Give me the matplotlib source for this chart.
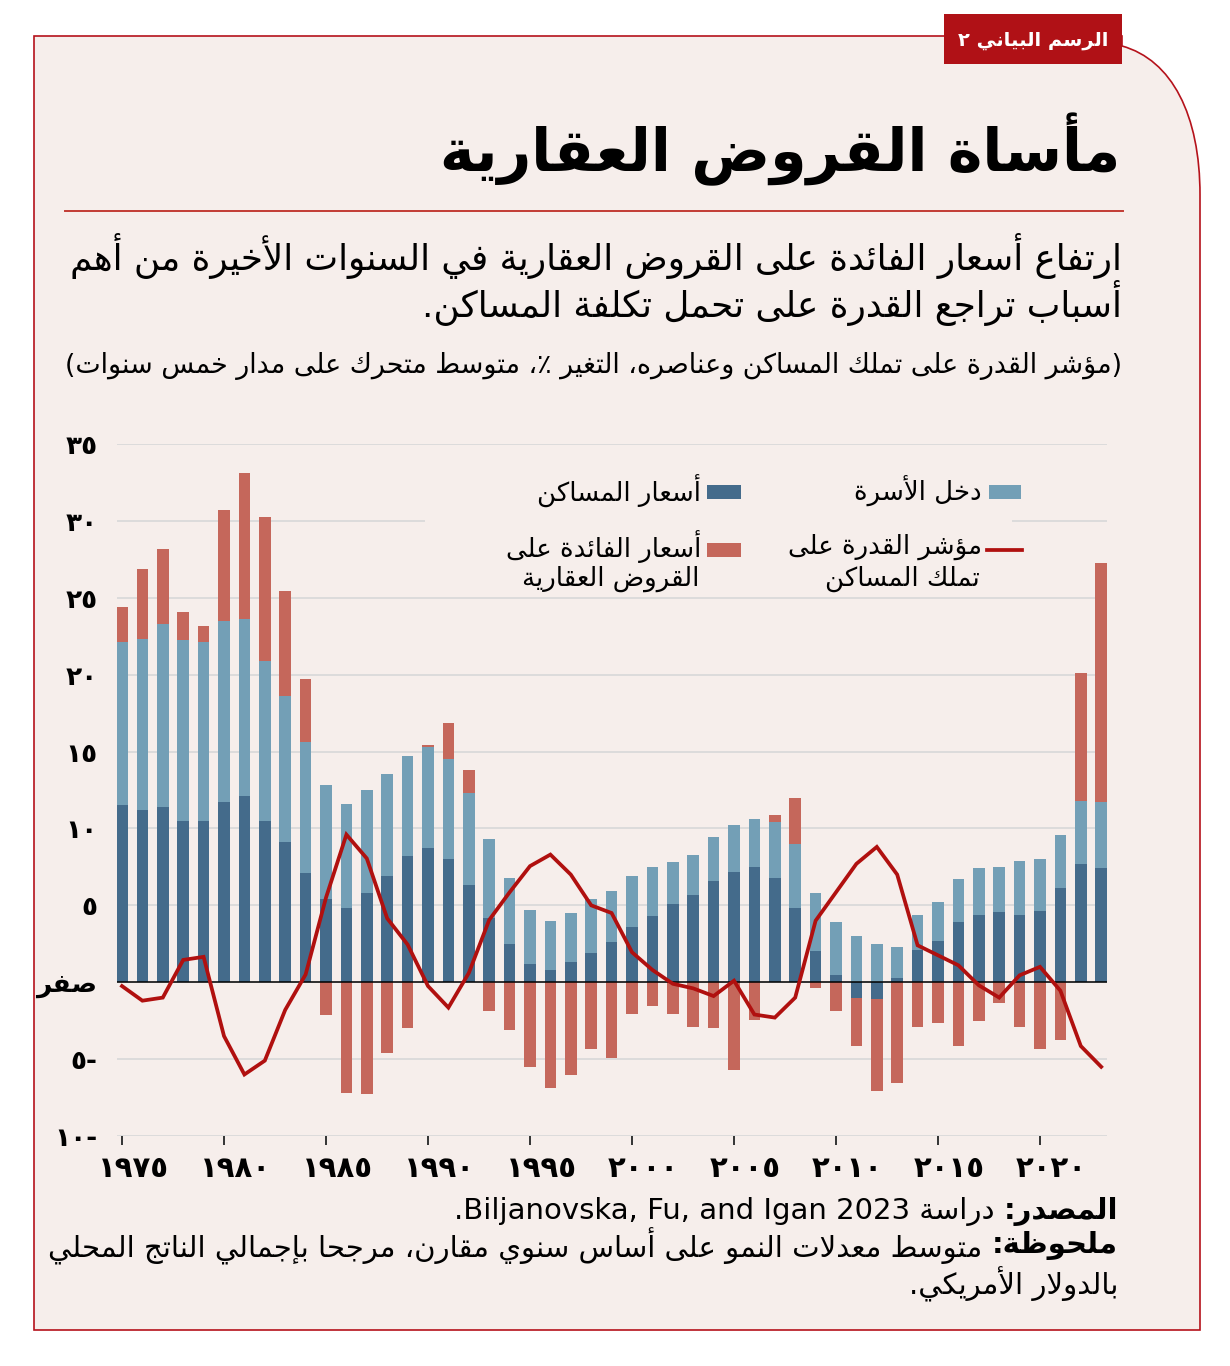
import numpy as np
import matplotlib
matplotlib.use('Agg')
import matplotlib.pyplot as plt
from matplotlib.patches import Rectangle, PathPatch
from matplotlib.path import Path
from matplotlib.lines import Line2D
from matplotlib.transforms import ScaledTranslation

# ---------------- data ----------------
years = list(range(1975, 2024))
house_prices = [11.5, 11.2, 11.4, 10.5, 10.5, 11.7, 12.1, 10.5, 9.1, 7.1,
                5.4, 4.8, 5.8, 6.9, 8.2, 8.7, 8.0, 6.3, 4.2, 2.5,
                1.2, 0.8, 1.3, 1.9, 2.6, 3.6, 4.3, 5.1, 5.7, 6.6,
                7.2, 7.5, 6.8, 4.8, 2.0, 0.5, -1.0, -1.1, 0.3, 2.1,
                2.7, 3.9, 4.4, 4.55, 4.4, 4.6, 6.1, 7.7, 7.4]
household_income = [10.6, 11.1, 11.9, 11.75, 11.6, 11.8, 11.5, 10.4, 9.5, 8.5,
                    7.4, 6.8, 6.7, 6.65, 6.5, 6.6, 6.5, 6.0, 5.1, 4.3,
                    3.5, 3.2, 3.2, 3.5, 3.3, 3.3, 3.2, 2.75, 2.6, 2.85,
                    3.0, 3.1, 3.6, 4.2, 3.8, 3.4, 3.0, 2.5, 2.0, 2.3,
                    2.5, 2.8, 3.0, 2.95, 3.5, 3.4, 3.5, 4.1, 4.3]
mortgage_rates = [2.3, 4.55, 4.85, 1.8, 1.05, 7.2, 9.5, 9.35, 6.85, 4.15,
                  -2.15, -7.2, -7.3, -4.6, -3.0, 0.15, 2.35, 1.5, -1.85, -3.1,
                  -5.5, -6.9, -6.05, -4.35, -4.9, -2.05, -1.55, -2.05, -2.9, -3.0,
                  -5.7, -2.45, 0.45, 3.0, -0.4, -1.85, -3.15, -5.95, -6.55, -2.9,
                  -2.65, -4.15, -2.55, -1.35, -2.9, -4.35, -3.75, 8.3, 15.55]
affordability = [-0.25, -1.2, -1.0, 1.45, 1.65, -3.5, -6.0, -5.1, -1.8, 0.5,
                 5.5, 9.6, 8.05, 4.15, 2.45, -0.25, -1.65, 0.6, 4.05, 5.85,
                 7.55, 8.3, 7.0, 5.0, 4.5, 1.95, 0.8, -0.1, -0.4, -0.9,
                 0.1, -2.1, -2.3, -1.0, 4.0, 5.85, 7.7, 8.8, 7.0, 2.4,
                 1.75, 1.1, -0.2, -1.0, 0.45, 1.0, -0.55, -4.15, -5.5]
x_ticks = [1975, 1980, 1985, 1990, 1995, 2000, 2005, 2010, 2015, 2020]
y_ticks = [-10, -5, 0, 5, 10, 15, 20, 25, 30, 35]

title_txt = "مأساة القروض العقارية"
badge_txt = "الرسم البياني ٢"
sub1_txt = "ارتفاع أسعار الفائدة على القروض العقارية في السنوات الأخيرة من أهم"
sub2_txt = "أسباب تراجع القدرة على تحمل تكلفة المساكن."
unit_txt = "(مؤشر القدرة على تملك المساكن وعناصره، التغير ٪، متوسط متحرك على مدار خمس سنوات)"
zero_txt = "صفر"
leg_income = "دخل الأسرة"
leg_prices = "أسعار المساكن"
leg_index = ["مؤشر القدرة على", "تملك المساكن"]
leg_rates = ["أسعار الفائدة على", "القروض العقارية"]
src_bold = "المصدر:"
src_rest = " دراسة Biljanovska, Fu, and Igan 2023."
note_bold = "ملحوظة:"
note_rest1 = " متوسط معدلات النمو على أساس سنوي مقارن، مرجحا بإجمالي الناتج المحلي"
note_rest2 = "بالدولار الأمريكي."

# ---------------- Arabic shaping + simple bidi ----------------
_codes = list(range(0x621, 0x63B)) + list(range(0x641, 0x64B))
_counts = [1, 2, 2, 2, 2, 4, 2, 4, 2, 4, 4, 4, 4, 4, 2, 2, 2, 2, 4, 4, 4, 4, 4, 4, 4, 4,
           4, 4, 4, 4, 4, 4, 4, 2, 2, 4]
FORMS = {}
_p = 0xFE80
for c, k in zip(_codes, _counts):
    FORMS[chr(c)] = tuple(chr(_p + i) for i in range(k))
    _p += k
LAMALEF = {'\u0622': ('\uFEF5', '\uFEF6'), '\u0623': ('\uFEF7', '\uFEF8'),
           '\u0625': ('\uFEF9', '\uFEFA'), '\u0627': ('\uFEFB', '\uFEFC')}
TATWEEL = '\u0640'


def _forms(u):
    return u if isinstance(u, tuple) else FORMS.get(u)


def _jl(u):
    if u == TATWEEL:
        return True
    f = _forms(u)
    return f is not None and len(f) == 4


def _jr(u):
    if u == TATWEEL:
        return True
    f = _forms(u)
    return f is not None and len(f) >= 2


def shape(s):
    units = []
    i = 0
    while i < len(s):
        c = s[i]
        if c == '\u0644' and i + 1 < len(s) and s[i + 1] in LAMALEF:
            units.append(LAMALEF[s[i + 1]])
            i += 2
        else:
            units.append(c)
            i += 1
    out = []
    for k, u in enumerate(units):
        f = _forms(u)
        if f is None:
            out.append(u)
            continue
        prev = units[k - 1] if k > 0 else None
        nxt = units[k + 1] if k + 1 < len(units) else None
        p = prev is not None and _jl(prev) and _jr(u)
        q = nxt is not None and _jl(u) and _jr(nxt)
        if len(f) == 1:
            out.append(f[0])
        elif len(f) == 2:
            out.append(f[1] if p else f[0])
        else:
            out.append(f[3] if (p and q) else f[1] if p else f[2] if q else f[0])
    return ''.join(out)


MIRROR = {'(': ')', ')': '(', '[': ']', ']': '['}


def _typ(c):
    if (c.isascii() and c.isalnum()) or '\u0660' <= c <= '\u0669':
        return 'L'
    if '\u0600' <= c <= '\u06FF' or '\uFE70' <= c <= '\uFEFF':
        return 'R'
    return 'N'


def bidi(s):
    t = [_typ(c) for c in s]
    n = len(s)
    res = t[:]
    for i in range(n):
        if t[i] == 'N':
            p = next((t[j] for j in range(i - 1, -1, -1) if t[j] != 'N'), 'R')
            q = next((t[j] for j in range(i + 1, n) if t[j] != 'N'), 'R')
            res[i] = 'L' if (p == 'L' and q == 'L') else 'R'
    runs = []
    for c, r in zip(s, res):
        if runs and runs[-1][0] == r:
            runs[-1][1].append(c)
        else:
            runs.append([r, [c]])
    out = []
    for r, cs in reversed(runs):
        if r == 'R':
            out.extend(MIRROR.get(c, c) for c in reversed(cs))
        else:
            out.extend(cs)
    return ''.join(out)


def ar(s):
    return bidi(shape(s))


AR_DIG = str.maketrans('0123456789', '٠١٢٣٤٥٦٧٨٩')


def ardig(v):
    return str(v).translate(AR_DIG)


# ---------------- style ----------------
BG = '#F6EEEB'
RED_FRAME = '#B5121B'
DARK = '#446B8B'
LIGHT = '#739FB6'
RATE = '#C5675B'
LINE = '#B0100F'
GRID = '#DADADA'
FONT = 'DejaVu Sans'

W, H = 1230, 1366
fig = plt.figure(figsize=(W / 100, H / 100), dpi=100)
fig.patch.set_facecolor('white')
REN = fig.canvas.get_renderer()

ov = fig.add_axes([0, 0, 1, 1], zorder=0)
ov.set_xlim(0, W)
ov.set_ylim(H, 0)
ov.axis('off')

# panel with curved top-right corner
verts = [(34, 36), (1122, 36), (1122, 46), (1172, 60), (1200, 115), (1200, 195),
         (1200, 1330), (34, 1330), (34, 36)]
codes = [Path.MOVETO, Path.LINETO, Path.LINETO, Path.CURVE4, Path.CURVE4, Path.CURVE4,
         Path.LINETO, Path.LINETO, Path.CLOSEPOLY]
ov.add_patch(PathPatch(Path(verts, codes), facecolor=BG, edgecolor=RED_FRAME, lw=1.2))
ov.add_patch(Rectangle((944, 14), 178, 50, facecolor='#B01116', edgecolor='none', zorder=3))
ov.plot([65, 1123], [211, 211], color='#C23B33', lw=1.4)


def put(ax, x, y, s, size, ha='right', weight='normal', color='black', width=None):
    t = ax.text(x, y, s, fontsize=size, ha=ha, va='center', fontweight=weight,
                color=color, family=FONT, zorder=5)
    if width:
        for _ in range(3):
            w = t.get_window_extent(REN).width
            t.set_fontsize(t.get_fontsize() * width / w)
    return t


def tw(t):
    return t.get_window_extent(REN).width


put(ov, 1033, 40, ar(badge_txt), 14, ha='center', weight='bold', color='white', width=150)
put(ov, 1120, 149, ar(title_txt), 40, weight='bold', width=680)
s1 = put(ov, 1122, 256, ar(sub1_txt), 20, width=1054)
put(ov, 1122, 303, ar(sub2_txt), s1.get_fontsize())
put(ov, 1122, 366, ar(unit_txt), 16, width=1057)

# footnotes: fit bold label + text of the long line to 1070 px
fs = 15.0
for _ in range(4):
    ta = ov.text(0, 0, ar(note_bold), fontsize=fs, fontweight='bold', family=FONT)
    tb = ov.text(0, 0, ar(note_rest1), fontsize=fs, family=FONT)
    total = tw(ta) + tw(tb)
    ta.remove()
    tb.remove()
    fs = fs * 1070 / total
b2 = put(ov, 1118, 1246, ar(note_bold), fs, weight='bold')
put(ov, 1118 - tw(b2), 1246, ar(note_rest1), fs)
put(ov, 1118, 1284, ar(note_rest2), fs)
b1 = put(ov, 1118, 1211, ar(src_bold), fs, weight='bold')
put(ov, 1118 - tw(b1), 1211, ar(src_rest), fs)

# ---------------- chart ----------------
x0px, x1px, ytop, ybot = 117, 1107, 444, 1136
ax = fig.add_axes([x0px / W, 1 - ybot / H, (x1px - x0px) / W, (ybot - ytop) / H], zorder=1)
ax.set_facecolor('none')
yr = np.array(years)
xl0 = 1975 - (122 - x0px) / 20.4
xl1 = 1975 + (x1px - 122) / 20.4
ax.set_xlim(xl0, xl1)
ax.set_ylim(-10, 35)
for sp in ax.spines.values():
    sp.set_visible(False)
ax.set_yticks(y_ticks)
ax.yaxis.grid(True, color=GRID, lw=1.3)
ax.set_axisbelow(True)

pos_base = np.zeros(len(years))
neg_base = np.zeros(len(years))
for vals, col in [(np.array(house_prices), DARK), (np.array(household_income), LIGHT),
                  (np.array(mortgage_rates), RATE)]:
    bottom = np.where(vals >= 0, pos_base, neg_base)
    ax.bar(yr, vals, bottom=bottom, width=0.57, color=col, zorder=3, linewidth=0)
    pos_base = pos_base + np.where(vals > 0, vals, 0)
    neg_base = neg_base + np.where(vals < 0, vals, 0)

ax.axhline(0, color='black', lw=1.1, zorder=4)
ax.plot(yr, affordability, color=LINE, lw=2.7, zorder=5, solid_joinstyle='miter')

ylabels = []
for v in y_ticks:
    if v == 0:
        ylabels.append(ar(zero_txt))
    elif v < 0:
        ylabels.append(ardig(-v) + '-')
    else:
        ylabels.append(ardig(v))
ax.set_yticklabels(ylabels, fontsize=19, fontweight='bold', family=FONT)
ax.tick_params(axis='y', length=0, pad=14)
ax.set_xticks(x_ticks)
ax.set_xticklabels([ardig(v) for v in x_ticks], fontsize=21, fontweight='bold', family=FONT)
ax.tick_params(axis='x', length=6.5, width=1.4, color='#333333', pad=7)
off = ScaledTranslation(11 / 100, 0, fig.dpi_scale_trans)
for lab in ax.get_xticklabels():
    lab.set_transform(lab.get_transform() + off)

# ---------------- legend ----------------
lg = fig.add_axes([0, 0, 1, 1], zorder=2)
lg.set_xlim(0, W)
lg.set_ylim(H, 0)
lg.axis('off')
lg.add_patch(Rectangle((425, 456), 587, 136, facecolor=BG, edgecolor='none', zorder=1))
lg.add_patch(Rectangle((989, 485), 32, 14, facecolor=LIGHT, edgecolor='none', zorder=2))
lg.add_patch(Rectangle((707, 485), 34, 14, facecolor=DARK, edgecolor='none', zorder=2))
lg.add_patch(Rectangle((707, 543), 34, 14, facecolor=RATE, edgecolor='none', zorder=2))
lg.add_line(Line2D([987, 1022], [550, 550], color=LINE, lw=2.7, zorder=2))
li = put(lg, 982, 547, ar(leg_index[0]), 16, width=194)
ls = li.get_fontsize()
put(lg, 980, 579, ar(leg_index[1]), ls)
put(lg, 982, 491, ar(leg_income), ls)
put(lg, 701, 491, ar(leg_prices), ls)
put(lg, 701, 547, ar(leg_rates[0]), ls)
put(lg, 699, 579, ar(leg_rates[1]), ls)

fig.savefig('out.png', dpi=100, facecolor='white')
